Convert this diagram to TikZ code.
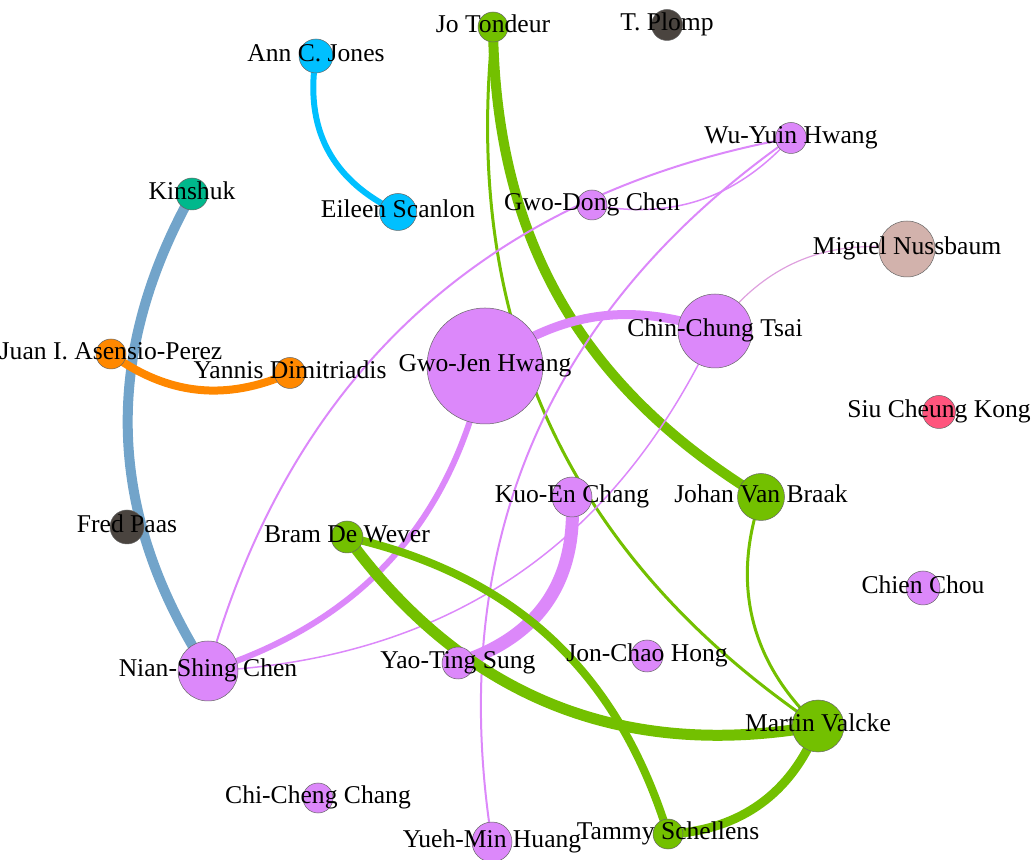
\documentclass[tikz,border=0pt]{standalone}
\usepackage{fontspec}
\setmainfont{Liberation Serif}
\pgfdeclarelayer{background}
\pgfsetlayers{background,main}
\definecolor{cviolet}{RGB}{220,136,250}
\definecolor{cgreen}{RGB}{115,192,0}
\definecolor{ccyan}{RGB}{0,192,255}
\definecolor{corange}{RGB}{255,136,0}
\definecolor{cteal}{RGB}{0,184,140}
\definecolor{cdark}{RGB}{74,68,63}
\definecolor{cpink}{RGB}{210,178,172}
\definecolor{cred}{RGB}{255,85,125}
\definecolor{csteel}{RGB}{114,164,202}
\definecolor{cvp}{RGB}{222,160,222}
\tikzset{
  author/.style={circle, draw=black!60, line width=0.5pt, inner sep=0pt, minimum size=#1},
  lbl/.style={anchor=base, inner sep=0pt, yshift=-5.5pt, font=\fontsize{25.6}{30}\selectfont, text=black},
  link/.style={line cap=butt, looseness=1},
}
\begin{document}
\begin{tikzpicture}[x=1pt,y=1pt]
\useasboundingbox (0,0) rectangle (1035,859);
\clip (0,0) rectangle (1035,859);
% nodes
\node[author=30pt, fill=cgreen]  (JoT)      at (493,832) {};
\node[author=31pt, fill=cdark]   (Plomp)    at (667,834) {};
\node[author=34pt, fill=ccyan]   (AnnJ)     at (316,803) {};
\node[author=31pt, fill=cviolet] (WuYuin)   at (791,721) {};
\node[author=32pt, fill=cteal]   (Kinshuk)  at (192,665) {};
\node[author=37pt, fill=ccyan]   (Eileen)   at (398,647) {};
\node[author=30pt, fill=cviolet] (GwoDong)  at (592,654) {};
\node[author=56pt, fill=cpink]   (Miguel)   at (907,610) {};
\node[author=74pt, fill=cviolet] (ChinC)    at (715,528) {};
\node[author=30pt, fill=corange] (Juan)     at (111,505) {};
\node[author=31pt, fill=corange] (Yannis)   at (290,486) {};
\node[author=116pt, fill=cviolet] (GwoJen)  at (485,493) {};
\node[author=33pt, fill=cred]    (Siu)      at (939,447) {};
\node[author=40pt, fill=cviolet] (KuoEn)    at (572,362) {};
\node[author=47pt, fill=cgreen]  (Johan)    at (761,362) {};
\node[author=34pt, fill=cdark]   (Fred)     at (127,332) {};
\node[author=32pt, fill=cgreen]  (Bram)     at (347,322) {};
\node[author=34pt, fill=cviolet] (ChienC)   at (923,271) {};
\node[author=60pt, fill=cviolet] (NianS)    at (208,188) {};
\node[author=32pt, fill=cviolet] (YaoT)     at (458,196) {};
\node[author=32pt, fill=cviolet] (JonCH)    at (647,203) {};
\node[author=52pt, fill=cgreen]  (Martin)   at (818,133) {};
\node[author=30pt, fill=cviolet] (ChiCC)    at (318,61)  {};
\node[author=40pt, fill=cviolet] (YuehM)    at (492,17)  {};
\node[author=30pt, fill=cgreen]  (Tammy)    at (668,25)  {};
% edges
\begin{pgfonlayer}{background}
\draw[link, ccyan, line width=6pt, looseness=1.07] (AnnJ.center) to[bend right=37] (Eileen.center);
\draw[link, csteel, line width=10pt] (Kinshuk.center) to[bend right=31] (NianS.center);
\draw[link, corange, line width=8pt] (Juan.center) to[bend right=30] (Yannis.center);
\draw[link, cgreen, line width=10pt] (JoT.center) to[bend right=29] (Johan.center);
\draw[link, cgreen, line width=3pt] (JoT.center) to[bend right=31] (Martin.center);
\draw[link, cgreen, line width=3pt] (Johan.center) to[bend right=33] (Martin.center);
\draw[link, cviolet, line width=9pt] (GwoJen.center) to[bend left=28] (ChinC.center);
\draw[link, cviolet, line width=6pt] (GwoJen.center) to[bend left=30] (NianS.center);
\draw[link, cviolet, line width=2pt] (NianS.center) to[bend left=32] (WuYuin.center);
\draw[link, cviolet, line width=1.5pt] (GwoDong.center) to[bend right=29] (WuYuin.center);
\draw[link, cvp, line width=1.2pt] (ChinC.center) to[bend left=31] (Miguel.center);
\draw[link, cviolet, line width=1.5pt] (ChinC.center) to[bend left=31] (NianS.center);
\draw[link, cviolet, line width=2pt] (WuYuin.center) to[bend right=32] (YuehM.center);
\draw[link, cviolet, line width=13pt, looseness=1.07] (KuoEn.center) to[bend left=38] (YaoT.center);
\draw[link, cgreen, line width=11pt] (Bram.center) to[bend right=32] (Martin.center);
\draw[link, cgreen, line width=8pt] (Bram.center) to[bend left=30] (Tammy.center);
\draw[link, cgreen, line width=9pt] (Martin.center) to[bend left=33] (Tammy.center);
\end{pgfonlayer}
% labels
\node[lbl] (lJoT)     at (JoT.center)     {Jo Tondeur};
\node[lbl] (lPlomp)   at (Plomp.center)   {T. Plomp};
\node[lbl] (lAnnJ)    at (AnnJ.center)    {Ann C. Jones};
\node[lbl] (lWuYuin)  at (WuYuin.center)  {Wu-Yuin Hwang};
\node[lbl] (lKinshuk) at (Kinshuk.center) {Kinshuk};
\node[lbl] (lEileen)  at (Eileen.center)  {Eileen Scanlon};
\node[lbl] (lGwoDong) at (GwoDong.center) {Gwo-Dong Chen};
\node[lbl] (lMiguel)  at (Miguel.center)  {Miguel Nussbaum};
\node[lbl] (lChinC)   at (ChinC.center)   {Chin-Chung Tsai};
\node[lbl] (lJuan)    at (Juan.center)    {Juan I. Asensio-Perez};
\node[lbl] (lYannis)  at (Yannis.center)  {Yannis Dimitriadis};
\node[lbl] (lGwoJen)  at (GwoJen.center)  {Gwo-Jen Hwang};
\node[lbl] (lSiu)     at (Siu.center)     {Siu Cheung Kong};
\node[lbl] (lKuoEn)   at (KuoEn.center)   {Kuo-En Chang};
\node[lbl] (lJohan)   at (Johan.center)   {Johan Van Braak};
\node[lbl] (lFred)    at (Fred.center)    {Fred Paas};
\node[lbl] (lBram)    at (Bram.center)    {Bram De Wever};
\node[lbl] (lChienC)  at (ChienC.center)  {Chien Chou};
\node[lbl] (lNianS)   at (NianS.center)   {Nian-Shing Chen};
\node[lbl] (lYaoT)    at (YaoT.center)    {Yao-Ting Sung};
\node[lbl] (lJonCH)   at (JonCH.center)   {Jon-Chao Hong};
\node[lbl] (lMartin)  at (Martin.center)  {Martin Valcke};
\node[lbl] (lChiCC)   at (ChiCC.center)   {Chi-Cheng Chang};
\node[lbl] (lYuehM)   at (YuehM.center)   {Yueh-Min Huang};
\node[lbl] (lTammy)   at (Tammy.center)   {Tammy Schellens};
\end{tikzpicture}
\end{document}
